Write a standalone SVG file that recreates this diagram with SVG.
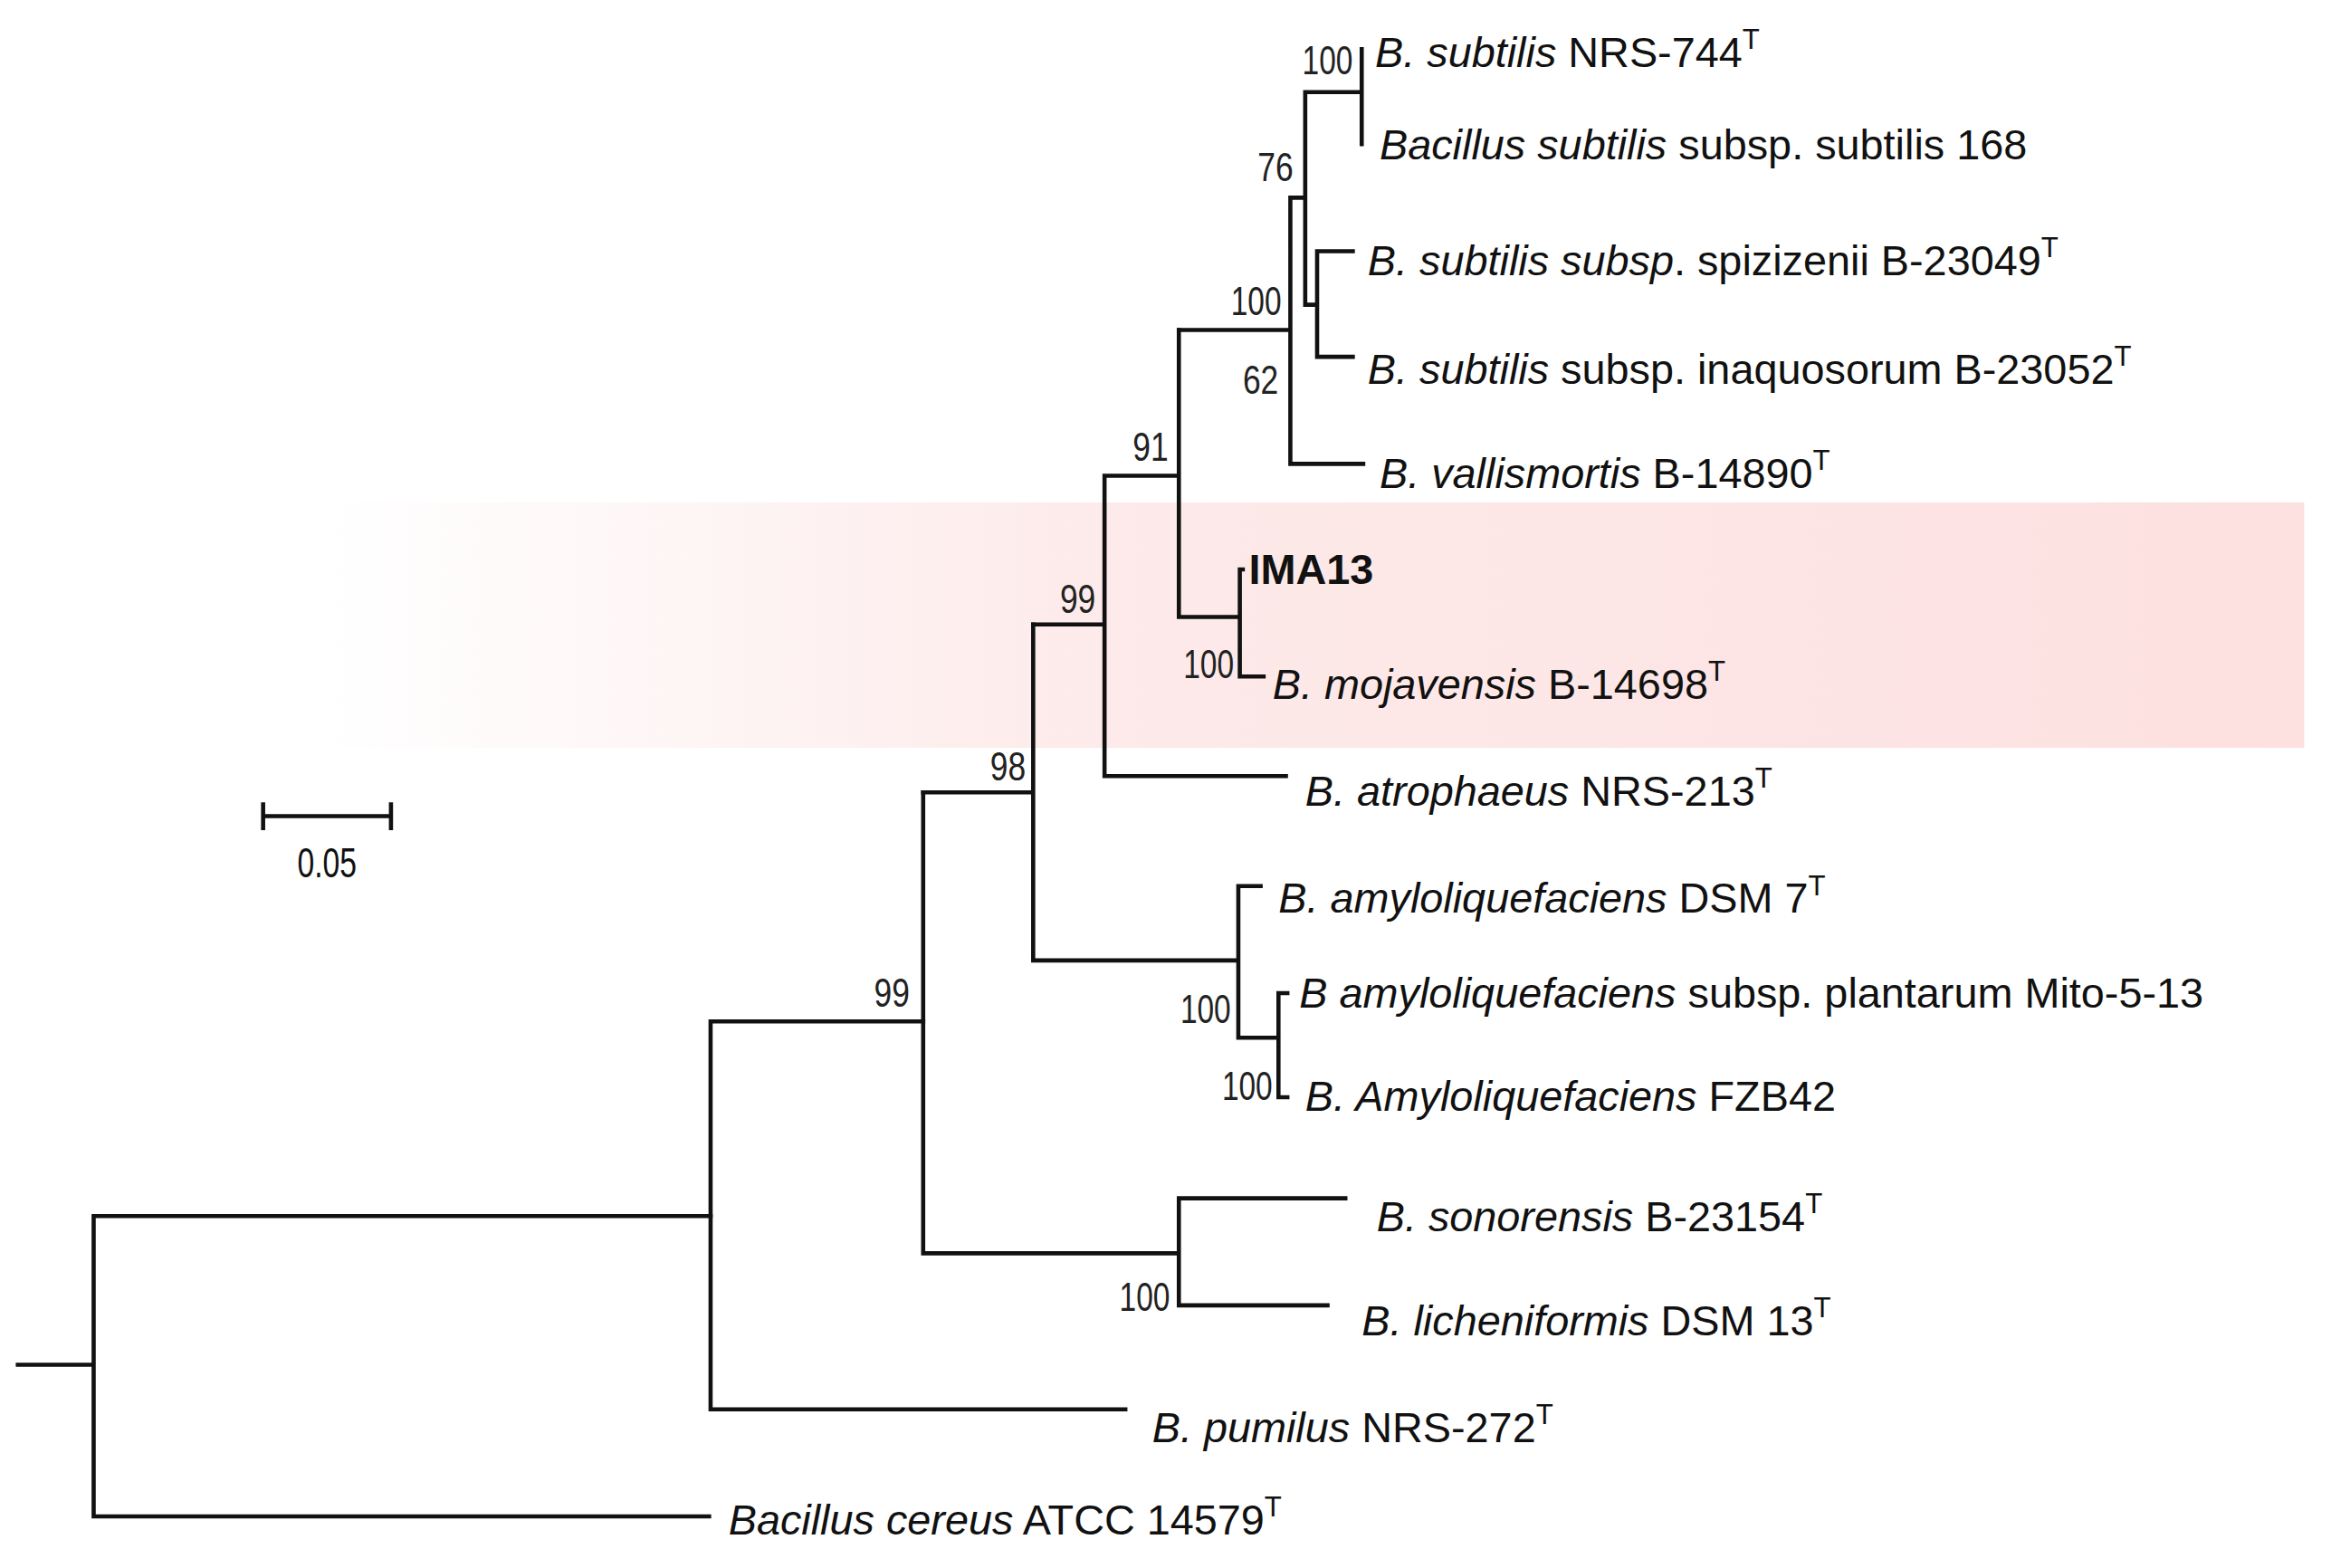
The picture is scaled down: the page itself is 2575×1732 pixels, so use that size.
<svg xmlns="http://www.w3.org/2000/svg" width="2575" height="1732" viewBox="0 0 2575 1732">
<style>
.br{fill:none;stroke:#111;stroke-width:2.8;stroke-linecap:square}
.lb{font-family:"Liberation Sans",Arial,sans-serif;font-size:28.5px;fill:#111}
.bs{font-family:"Liberation Sans",Arial,sans-serif;font-size:27px;fill:#222;text-anchor:end}
.sp{font-size:19px}
</style>
<defs>
<linearGradient id="hl" x1="0" x2="1" y1="0" y2="0">
<stop offset="0" stop-color="#fde6e6" stop-opacity="0"/>
<stop offset="0.4" stop-color="#fde6e6" stop-opacity="0.85"/>
<stop offset="1" stop-color="#fde0e0" stop-opacity="1"/>
</linearGradient>
</defs>
<rect width="2575" height="1732" fill="#fff"/>
<g transform="scale(1.6422)">
<rect id="highlight" x="215" y="338" width="1335" height="165" fill="url(#hl)"/>
<g id="connectors">
<path class="br" d="M12 918H63M63 818V1020M63 818H478M63 1020H477"/>
<path class="br" d="M478 687V948M478 948H757M478 687H621"/>
<path class="br" d="M621 533V843M621 843H793M793 806V878M793 806H905M793 878H893"/>
<path class="br" d="M621 533H695M695 420V646M695 646H833M833 596V698M833 596H848M833 698H860M860 668V738M860 668H866M860 738H866"/>
<path class="br" d="M695 420H743M743 320V522M743 522H865M743 320H793M793 222V415M793 415H834M834 383V455M834 383H836M834 455H850"/>
<path class="br" d="M793 222H868M868 133V312M868 312H917M868 133H878M878 62V205M878 62H916M916 33V97M878 205H886M886 169V240M886 169H910M886 240H910"/>
</g>
<g id="scalebar">
<path class="br" d="M177 549H263M177 541V557M263 541V557"/>
<text class="lb" x="220" y="590" font-size="24" text-anchor="middle" textLength="40" lengthAdjust="spacingAndGlyphs">0.05</text>
</g>
<g id="tips">
<text id="t1" class="lb" x="925" y="45"><tspan font-style="italic">B. subtilis</tspan> NRS-744<tspan class="sp" dy="-12">T</tspan></text>
<text id="t2" class="lb" x="928" y="107"><tspan font-style="italic">Bacillus subtilis</tspan> subsp. subtilis 168</text>
<text id="t3" class="lb" x="920" y="185"><tspan font-style="italic">B. subtilis subsp</tspan>. spizizenii B-23049<tspan class="sp" dy="-12">T</tspan></text>
<text id="t4" class="lb" x="920" y="258"><tspan font-style="italic">B. subtilis</tspan> subsp. inaquosorum B-23052<tspan class="sp" dy="-12">T</tspan></text>
<text id="t5" class="lb" x="928" y="328"><tspan font-style="italic">B. vallismortis</tspan> B-14890<tspan class="sp" dy="-12">T</tspan></text>
<text id="t6" class="lb" x="840" y="393" font-weight="bold">IMA13</text>
<text id="t7" class="lb" x="856" y="470"><tspan font-style="italic">B. mojavensis</tspan> B-14698<tspan class="sp" dy="-12">T</tspan></text>
<text id="t8" class="lb" x="878" y="542"><tspan font-style="italic">B. atrophaeus</tspan> NRS-213<tspan class="sp" dy="-12">T</tspan></text>
<text id="t9" class="lb" x="860" y="614"><tspan font-style="italic">B. amyloliquefaciens</tspan> DSM 7<tspan class="sp" dy="-12">T</tspan></text>
<text id="t10" class="lb" x="874" y="678"><tspan font-style="italic">B amyloliquefaciens</tspan> subsp. plantarum Mito-5-13</text>
<text id="t11" class="lb" x="878" y="747"><tspan font-style="italic">B. Amyloliquefaciens</tspan> FZB42</text>
<text id="t12" class="lb" x="926" y="828"><tspan font-style="italic">B. sonorensis</tspan> B-23154<tspan class="sp" dy="-12">T</tspan></text>
<text id="t13" class="lb" x="916" y="898"><tspan font-style="italic">B. licheniformis</tspan> DSM 13<tspan class="sp" dy="-12">T</tspan></text>
<text id="t14" class="lb" x="775" y="970"><tspan font-style="italic">B. pumilus</tspan> NRS-272<tspan class="sp" dy="-12">T</tspan></text>
<text id="t15" class="lb" x="490" y="1032"><tspan font-style="italic">Bacillus cereus</tspan> ATCC 14579<tspan class="sp" dy="-12">T</tspan></text>
</g>
<g id="bootstrap">
<text class="bs" x="910" y="50" textLength="34" lengthAdjust="spacingAndGlyphs">100</text>
<text class="bs" x="870" y="122" textLength="24" lengthAdjust="spacingAndGlyphs">76</text>
<text class="bs" x="862" y="212" textLength="34" lengthAdjust="spacingAndGlyphs">100</text>
<text class="bs" x="860" y="265" textLength="24" lengthAdjust="spacingAndGlyphs">62</text>
<text class="bs" x="786" y="310" textLength="24" lengthAdjust="spacingAndGlyphs">91</text>
<text class="bs" x="737" y="412" textLength="24" lengthAdjust="spacingAndGlyphs">99</text>
<text class="bs" x="830" y="456" textLength="34" lengthAdjust="spacingAndGlyphs">100</text>
<text class="bs" x="690" y="525" textLength="24" lengthAdjust="spacingAndGlyphs">98</text>
<text class="bs" x="612" y="677" textLength="24" lengthAdjust="spacingAndGlyphs">99</text>
<text class="bs" x="828" y="688" textLength="34" lengthAdjust="spacingAndGlyphs">100</text>
<text class="bs" x="856" y="740" textLength="34" lengthAdjust="spacingAndGlyphs">100</text>
<text class="bs" x="787" y="882" textLength="34" lengthAdjust="spacingAndGlyphs">100</text>
</g>
</g>
</svg>
